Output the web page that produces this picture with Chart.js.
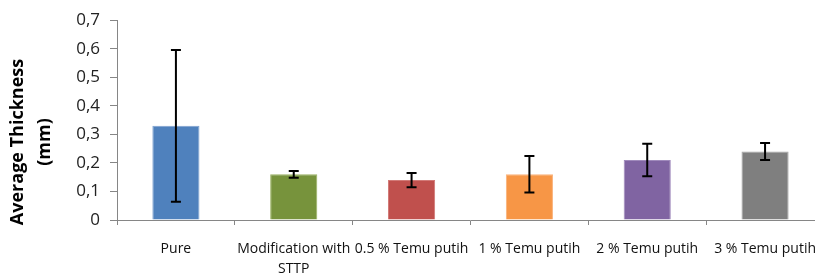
<!DOCTYPE html>
<html>
<head>
<meta charset="utf-8">
<script src="https://cdn.jsdelivr.net/npm/chart.js@4/dist/chart.umd.min.js"></script>
<style>
  html, body { margin: 0; padding: 0; background: #fff; overflow: hidden; }
  #wrap { width: 830px; height: 273px; }
</style>
</head>
<body>
<div id="wrap"><canvas id="chart" width="830" height="273"></canvas></div>
<script>
'use strict'

const categories = ['Pure', ['Modification with', 'STTP'], '0.5 % Temu putih', '1 % Temu putih', '2 % Temu putih', '3 % Temu putih']
const thickness = [0.33, 0.16, 0.14, 0.16, 0.21, 0.24]
const errors = [0.266, 0.012, 0.025, 0.064, 0.057, 0.03]
const barColors = ['#4f81bd', '#77933c', '#c0504d', '#f79646', '#8064a2', '#7f7f7f']
const barEdges = ['#7da0cf', '#98b060', '#d27a77', '#fab27a', '#a08abc', '#a5a5a5']
const yTitle = ['Average Thickness', '(mm)']

// draws the black error bars on top of the columns
const errorBarsPlugin = {
  id: 'errorBars',
  afterDatasetsDraw (chart) {
    const { ctx, scales: { x, y } } = chart
    ctx.save()
    ctx.strokeStyle = '#000'
    ctx.lineWidth = 2
    thickness.forEach((v, i) => {
      const cx = x.getPixelForValue(i)
      const top = y.getPixelForValue(v + errors[i])
      const bottom = y.getPixelForValue(v - errors[i])
      ctx.beginPath()
      ctx.moveTo(cx, top)
      ctx.lineTo(cx, bottom)
      ctx.moveTo(cx - 5, top)
      ctx.lineTo(cx + 5, top)
      ctx.moveTo(cx - 5, bottom)
      ctx.lineTo(cx + 5, bottom)
      ctx.stroke()
    })
    ctx.restore()
  }
}

// axis title sits a bit lower than the plot centre, like the original
const yTitlePlugin = {
  id: 'yTitle',
  afterDraw (chart) {
    const { ctx } = chart
    ctx.save()
    ctx.translate(0, 142)
    ctx.rotate(-Math.PI / 2)
    ctx.fillStyle = '#000'
    ctx.font = 'bold 18px "Open Sans"'
    ctx.textAlign = 'center'
    ctx.textBaseline = 'middle'
    ctx.fillText(yTitle[0], 0, 18)
    ctx.fillText(yTitle[1], 0, 45)
    ctx.restore()
  }
}

new Chart(document.getElementById('chart'), {
  type: 'bar',
  data: {
    labels: categories,
    datasets: [{
      data: thickness,
      backgroundColor: barColors,
      borderColor: barEdges,
      borderWidth: 1,
      barPercentage: 0.4,
      categoryPercentage: 1
    }]
  },
  options: {
    responsive: false,
    animation: false,
    layout: { padding: { top: 20, right: 0, left: 0, bottom: 0 } },
    plugins: {
      legend: { display: false },
      tooltip: { enabled: false }
    },
    scales: {
      x: {
        offset: true,
        grid: { offset: true, drawOnChartArea: false, tickLength: 5, color: '#868686' },
        border: { color: '#868686', width: 1 },
        ticks: {
          color: '#111',
          padding: 14,
          maxRotation: 0,
          autoSkip: false,
          font: { family: 'Open Sans', size: 14, lineHeight: 1.45 }
        },
        afterFit (scale) { scale.height = 53 }
      },
      y: {
        min: 0,
        max: 0.7,
        grid: { drawOnChartArea: false, tickLength: 7, color: '#868686' },
        border: { color: '#868686', width: 1 },
        ticks: {
          stepSize: 0.1,
          color: '#222',
          padding: 10,
          font: { family: 'Open Sans', size: 17 },
          callback: (v) => v === 0 ? '0' : v.toFixed(1).replace('.', ',')
        },
        afterFit (scale) { scale.width = 117 }
      }
    }
  },
  plugins: [errorBarsPlugin, yTitlePlugin]
})
</script>
</body>
</html>
